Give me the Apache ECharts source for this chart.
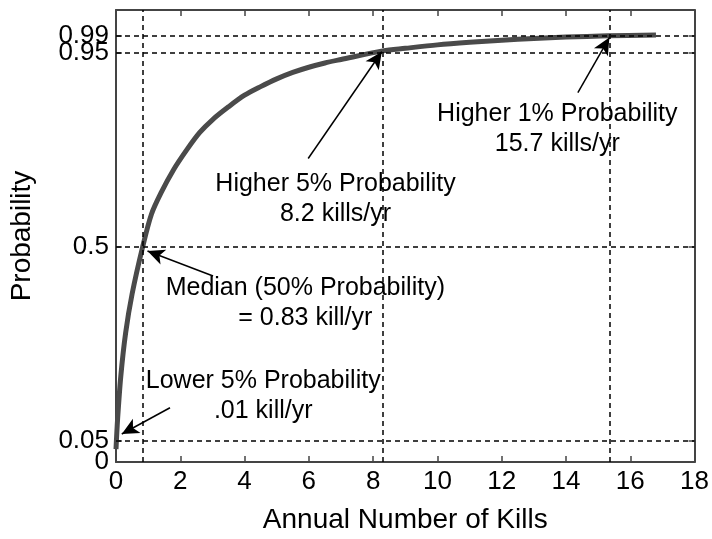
<!DOCTYPE html>
<html>
<head>
<meta charset="utf-8">
<script src="https://cdn.jsdelivr.net/npm/echarts@6/dist/echarts.min.js"></script>
<style>
  html, body { margin: 0; padding: 0; background: #fff; }
  #main { width: 712px; height: 539px; }
</style>
</head>
<body>
<div id="main"></div>
<script>
// cumulative probability curve
let kills = [0, 0.05, 0.15, 0.3, 0.5, 0.83, 1.1, 1.4, 1.8, 2.2, 2.6, 3.0, 3.5, 4.0, 4.5, 5.0, 5.5, 6.0, 6.5, 7.0, 8.3, 9, 10, 11, 12, 13, 14, 15.3, 16.8];
let prob = [0.03, 0.1, 0.2, 0.3, 0.39, 0.5, 0.575, 0.625, 0.68, 0.725, 0.765, 0.795, 0.825, 0.852, 0.872, 0.89, 0.905, 0.917, 0.927, 0.935, 0.955, 0.961, 0.969, 0.975, 0.98, 0.984, 0.987, 0.99, 0.992];

// ticks on the y axis (split in two sets, since 0/0.05 and 0.95/0.99 overlap)
let yTicks = [0, 0.05, 0.5, 0.95, 0.99];
let yLabelsA = [0, 0.5, 0.99];
let yLabelsB = [0.05, 0.95];

// dashed reference lines
let vLines = [0.83, 8.3, 15.35];
let hLines = [0.05, 0.5, 0.95, 0.99];

// annotations: text and where it sits
let noteTexts = [
    "Lower 5% Probability\n.01 kill/yr",
    "Median (50% Probability)\n= 0.83 kill/yr",
    "Higher 5% Probability\n8.2 kills/yr",
    "Higher 1% Probability\n15.7 kills/yr"
];
let notePos = [[4.58, 0.153], [5.89, 0.368], [6.83, 0.61], [13.73, 0.773]];
// arrows: from tail to head
let arrowFrom = [[1.68, 0.126], [3.02, 0.432], [5.98, 0.705], [14.37, 0.858]];
let arrowTo = [[0.18, 0.065], [0.98, 0.49], [8.27, 0.953], [15.35, 0.986]];

let chart = echarts.init(document.getElementById("main"));

let font = "'Liberation Sans', Arial, sans-serif";
let axisCol = "#444";
let textCol = "#000";

function makeX(pos, showLabel) {
    return {
        type: "value",
        position: pos,
        min: 0,
        max: 18,
        interval: 2,
        splitLine: { show: false },
        axisLine: { show: true, onZero: false, lineStyle: { color: axisCol, width: 2 } },
        axisTick: { show: true, inside: true, length: 6, lineStyle: { color: axisCol, width: 1.5 } },
        axisLabel: { show: showLabel, fontSize: 26, color: textCol, fontFamily: font, margin: 7 }
    };
}

function makeY(pos, labels, showLine) {
    return {
        type: "value",
        position: pos,
        min: 0,
        max: 1.05,
        splitLine: { show: false },
        axisLine: { show: showLine, onZero: false, lineStyle: { color: axisCol, width: 2 } },
        axisTick: { show: showLine, inside: true, length: 6, customValues: yTicks, lineStyle: { color: axisCol, width: 1.5 } },
        axisLabel: {
            show: labels != null, customValues: labels || yTicks, hideOverlap: false,
            fontSize: 26, color: textCol, fontFamily: font, margin: 7
        }
    };
}

let xA = makeX("bottom", true);
xA.name = "Annual Number of Kills";
xA.nameLocation = "middle";
xA.nameGap = 44;
xA.nameTextStyle = { fontSize: 28, color: textCol, fontFamily: font };

let yA = makeY("left", yLabelsA, true);
yA.name = "Probability";
yA.nameLocation = "middle";
yA.nameGap = 80;
yA.nameTextStyle = { fontSize: 28, color: textCol, fontFamily: font };

let yB = makeY("left", yLabelsB, false);
let yRight = makeY("right", null, true);

let dashStyle = { type: [5, 4], color: "#000", width: 1.5 };

let refLines = [];
vLines.forEach(v => refLines.push({ xAxis: v }));
hLines.forEach(v => refLines.push({ yAxis: v }));

let arrowLines = arrowFrom.map((f, i) => [{ coord: f }, { coord: arrowTo[i] }]);

let option = {
    animation: false,
    backgroundColor: "#fff",
    grid: { left: 107, right: 15, top: 10, bottom: 63 },
    xAxis: [xA, makeX("top", false)],
    yAxis: [yA, yB, yRight],
    series: [
        {
            name: "curve",
            type: "line",
            data: kills.map((k, i) => [k, prob[i]]),
            showSymbol: false,
            smooth: 0.3,
            lineStyle: { color: "#4a4a4a", width: 5 },
            z: 3,
            markLine: {
                silent: true,
                symbol: "none",
                label: { show: false },
                lineStyle: dashStyle,
                data: refLines
            }
        },
        {
            name: "arrows",
            type: "line",
            data: [],
            z: 4,
            markLine: {
                silent: true,
                symbol: ["none", "arrow"],
                symbolSize: [12, 17],
                label: { show: false },
                lineStyle: { type: "solid", color: "#000", width: 1.5 },
                data: arrowLines
            }
        },
        {
            name: "notes",
            type: "scatter",
            symbolSize: 0,
            itemStyle: { opacity: 1 },
            data: notePos.map((p, i) => ({ value: p, label: { formatter: noteTexts[i] } })),
            label: {
                show: true,
                position: "inside",
                align: "center",
                verticalAlign: "middle",
                fontSize: 25,
                lineHeight: 30,
                color: textCol,
                opacity: 1,
                fontFamily: font
            },
            z: 5
        }
    ]
};

chart.setOption(option);
</script>
</body>
</html>
